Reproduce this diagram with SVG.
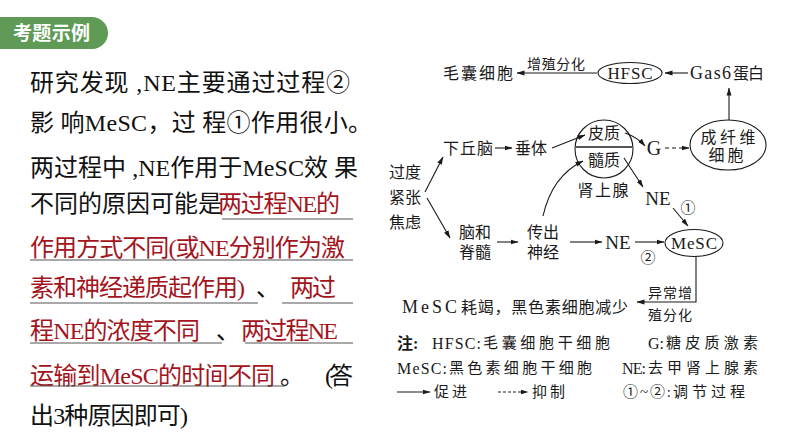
<svg xmlns="http://www.w3.org/2000/svg" width="794" height="447" viewBox="0 0 794 447">
<defs>
<marker id="ah" markerWidth="8" markerHeight="6" refX="7.5" refY="3" orient="auto" markerUnits="userSpaceOnUse">
<path d="M0,0.5 L8,3 L0,5.5 Z" fill="#1a1a1a"/>
</marker>
</defs>
<style>
.q{font-family:"Liberation Serif","Noto Sans CJK SC",serif;font-size:24px;fill:#111}
.r{fill:#a3141c}
.ul{stroke:#555;stroke-width:1.2}
.d{font-family:"Liberation Serif","Noto Sans CJK SC",serif;font-size:16px;fill:#1a1a1a;text-anchor:middle;dominant-baseline:central}
.s{font-size:14px}
.lg{font-family:"Liberation Serif","Noto Sans CJK SC",serif;font-size:15px;fill:#1a1a1a;dominant-baseline:central}
.lt{font-size:16px}
.c{fill:none;stroke:#1a1a1a;stroke-width:1.1;marker-end:url(#ah)}
.sh{fill:none;stroke:#1a1a1a;stroke-width:1.1}
</style>
<rect width="794" height="447" fill="#fff"/>
<g id="header">
<path d="M0,17 H92 A16,16 0 0 1 92,49 H0 Z" fill="#5f9b57"/>
<text x="13" y="40" font-family="'Noto Sans CJK SC',sans-serif" font-size="19" font-weight="bold" fill="#fff" textLength="77" lengthAdjust="spacing">考题示例</text>
</g>
<g id="question">
<text class="q" x="30" y="91" textLength="320" lengthAdjust="spacing">研究发现 ,NE主要通过过程②</text>
<text class="q" x="30" y="131" textLength="342" lengthAdjust="spacing">影 响MeSC，过 程①作用很小。</text>
<text class="q" x="30" y="176" textLength="328" lengthAdjust="spacing">两过程中 ,NE作用于MeSC效 果</text>
<text class="q" x="30" y="212" textLength="192" lengthAdjust="spacing">不同的原因可能是</text>
<text class="q r" x="218" y="212" textLength="122" lengthAdjust="spacing">两过程NE的</text>
<text class="q r" x="30" y="256" textLength="315" lengthAdjust="spacing">作用方式不同(或NE分别作为激</text>
<text class="q r" x="30" y="296" textLength="215" lengthAdjust="spacing">素和神经递质起作用)</text>
<text class="q" x="256" y="296">、</text>
<text class="q r" x="290" y="296" textLength="46" lengthAdjust="spacing">两过</text>
<text class="q r" x="30" y="339" textLength="170" lengthAdjust="spacing">程NE的浓度不同</text>
<text class="q" x="216" y="339">、</text>
<text class="q r" x="241" y="339" textLength="97" lengthAdjust="spacing">两过程NE</text>
<text class="q r" x="30" y="384" textLength="245" lengthAdjust="spacing">运输到MeSC的时间不同</text>
<text class="q" x="280" y="384">。</text>
<text class="q" x="325" y="384" textLength="28" lengthAdjust="spacing">(答</text>
<text class="q" x="30" y="424" textLength="158" lengthAdjust="spacing">出3种原因即可)</text>
<line class="ul" x1="222" y1="219" x2="353" y2="219"/>
<line class="ul" x1="30" y1="260" x2="353" y2="260"/>
<line class="ul" x1="30" y1="303" x2="258" y2="303"/>
<line class="ul" x1="282" y1="303" x2="353" y2="303"/>
<line class="ul" x1="30" y1="343" x2="222" y2="343"/>
<line class="ul" x1="245" y1="343" x2="353" y2="343"/>
<line class="ul" x1="30" y1="386" x2="285" y2="386"/>
</g>
<g id="connectors">
<line class="c" x1="597" y1="73" x2="517" y2="73"/>
<line class="c" x1="688" y1="73" x2="665" y2="73"/>
<line class="c" x1="729" y1="120" x2="729" y2="88"/>
<line class="c" x1="665" y1="148" x2="689" y2="148" stroke-dasharray="4,3"/>
<line class="c" x1="425" y1="192" x2="443" y2="157"/>
<line class="c" x1="427" y1="198" x2="450" y2="238"/>
<line class="c" x1="495" y1="148" x2="512" y2="148"/>
<line class="c" x1="552" y1="148" x2="585" y2="135"/>
<path class="c" d="M625,133 Q637,137 645,146"/>
<line class="c" x1="624" y1="158" x2="643" y2="187"/>
<line class="c" x1="673" y1="208" x2="688" y2="226"/>
<line class="c" x1="497" y1="242" x2="518" y2="242"/>
<line class="c" x1="570" y1="242" x2="602" y2="242"/>
<line class="c" x1="635" y1="242" x2="664" y2="242"/>
<path class="c" d="M543,216 Q552,176 583,161"/>
<path class="c" d="M696,257 V302 H637"/>
</g>
<g id="n-maonang"><text class="d" x="478" y="73" textLength="70" lengthAdjust="spacing">毛囊细胞</text></g>
<g id="l-zengzhi"><text class="d s" x="556" y="64" textLength="58" lengthAdjust="spacing">增殖分化</text></g>
<g id="n-hfsc">
<ellipse class="sh" cx="630" cy="73" rx="32" ry="10.5"/>
<text class="d" x="630" y="73" style="font-size:17px" textLength="45" lengthAdjust="spacing">HFSC</text>
</g>
<g id="n-gas6">
<text class="d" x="690" y="73" style="text-anchor:start;font-size:18px" textLength="41" lengthAdjust="spacing">Gas6</text>
<text class="d" x="733" y="73" style="text-anchor:start" textLength="31" lengthAdjust="spacing">蛋白</text>
</g>
<g id="n-fiber">
<ellipse class="sh" cx="728" cy="145" rx="38" ry="25"/>
<text class="d" x="728" y="137" textLength="55" lengthAdjust="spacing">成纤维</text>
<text class="d" x="726" y="155" textLength="35" lengthAdjust="spacing">细胞</text>
</g>
<g id="n-g"><text class="d" x="654" y="148" style="font-size:20px">G</text></g>
<g id="n-adrenal">
<circle class="sh" cx="604" cy="149" r="29"/>
<line x1="575" y1="147" x2="633" y2="147" stroke="#555" stroke-width="2"/>
<text class="d" x="604" y="133">皮质</text>
<text class="d" x="604" y="160">髓质</text>
<text class="d" x="603" y="190" textLength="51" lengthAdjust="spacing">肾上腺</text>
</g>
<g id="n-ne1"><text class="d" x="658" y="198" style="font-size:19px">NE</text></g>
<g id="l-1"><text class="d" x="688" y="208" style="font-size:15px">①</text></g>
<g id="n-mesc">
<ellipse class="sh" cx="694" cy="243" rx="29" ry="13.5"/>
<text class="d" x="694" y="243" style="font-size:17px" textLength="46" lengthAdjust="spacing">MeSC</text>
</g>
<g id="n-ne2"><text class="d" x="618" y="242" style="font-size:19px">NE</text></g>
<g id="l-2"><text class="d" x="648" y="258" style="font-size:15px">②</text></g>
<g id="n-chuanchu">
<text class="d" x="543" y="232">传出</text>
<text class="d" x="543" y="252">神经</text>
</g>
<g id="n-naohe">
<text class="d" x="475" y="232">脑和</text>
<text class="d" x="475" y="252">脊髓</text>
</g>
<g id="n-guodu">
<text class="d" x="405" y="172">过度</text>
<text class="d" x="405" y="197">紧张</text>
<text class="d" x="405" y="222">焦虑</text>
</g>
<g id="n-xiaqiu"><text class="d" x="468" y="148" textLength="50" lengthAdjust="spacing">下丘脑</text></g>
<g id="n-chuiti"><text class="d" x="531" y="148">垂体</text></g>
<g id="l-yichang">
<text class="d s" x="670" y="293" textLength="44" lengthAdjust="spacing">异常增</text>
<text class="d s" x="670" y="315" textLength="44" lengthAdjust="spacing">殖分化</text>
</g>
<g id="n-haojie">
<text class="d" x="402" y="307" style="text-anchor:start;font-size:18px" textLength="55" lengthAdjust="spacing">MeSC</text>
<text class="d" x="461" y="307" style="text-anchor:start" textLength="167" lengthAdjust="spacing">耗竭，黑色素细胞减少</text>
</g>
<g id="legend">
<text class="lg" x="397" y="343" style="font-weight:bold;font-size:16px">注:</text>
<text class="lg lt" x="432" y="343" textLength="49" lengthAdjust="spacing">HFSC:</text>
<text class="lg" x="483" y="343" textLength="127" lengthAdjust="spacing">毛囊细胞干细胞</text>
<text class="lg lt" x="648" y="343" textLength="16" lengthAdjust="spacing">G:</text>
<text class="lg" x="666" y="343" textLength="92" lengthAdjust="spacing">糖皮质激素</text>
<text class="lg lt" x="397" y="368" textLength="50" lengthAdjust="spacing">MeSC:</text>
<text class="lg" x="449" y="368" textLength="143" lengthAdjust="spacing">黑色素细胞干细胞</text>
<text class="lg lt" x="622" y="368" textLength="24" lengthAdjust="spacing">NE:</text>
<text class="lg" x="648" y="368" textLength="110" lengthAdjust="spacing">去甲肾上腺素</text>
<line class="c" x1="397" y1="392" x2="430" y2="392"/>
<text class="lg" x="434" y="392" textLength="33" lengthAdjust="spacing">促进</text>
<line class="c" x1="498" y1="392" x2="528" y2="392" stroke-dasharray="3,2"/>
<text class="lg" x="532" y="392" textLength="33" lengthAdjust="spacing">抑制</text>
<text class="lg" x="623" y="392" textLength="48" lengthAdjust="spacing">①~②:</text>
<text class="lg" x="673" y="392" textLength="72" lengthAdjust="spacing">调节过程</text>
</g>
</svg>
